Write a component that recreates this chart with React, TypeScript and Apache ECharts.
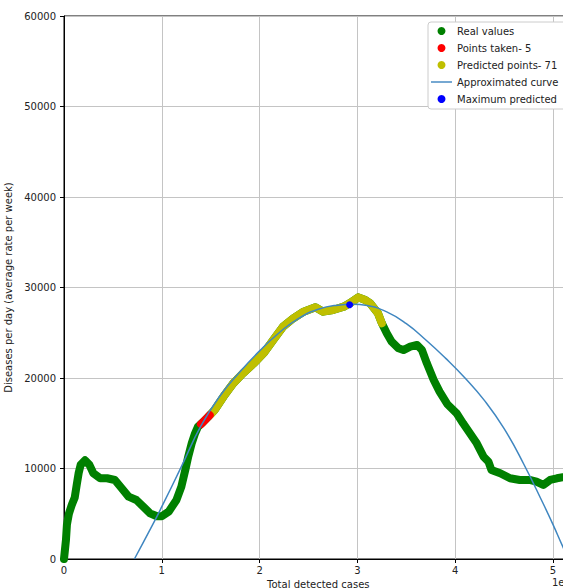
import React, { useEffect, useRef } from "react";
import * as echarts from "echarts";

// x values are in units of 1e6 total detected cases
const xTicks = [0, 1, 2, 3, 4, 5];
const yTicks = [0, 10000, 20000, 30000, 40000, 50000, 60000];

const realValues: [number, number][] = [
  [0.0, 0], [0.02, 2100], [0.03, 3800], [0.05, 5000], [0.08, 6000], [0.11, 6800],
  [0.13, 8200], [0.15, 9500], [0.17, 10400], [0.215, 10900], [0.26, 10400],
  [0.3, 9470], [0.37, 8920], [0.44, 8920], [0.52, 8730], [0.59, 7810],
  [0.66, 6890], [0.74, 6520], [0.81, 5780], [0.88, 5050], [0.95, 4720],
  [1.0, 4720], [1.07, 5230], [1.15, 6520], [1.2, 7990], [1.24, 9830],
  [1.27, 11300], [1.306, 12780], [1.34, 13890], [1.37, 14620], [1.425, 15170],
  [1.475, 15720], [1.54, 16460], [1.63, 17930], [1.73, 19410], [1.83, 20520],
  [1.94, 21620], [2.04, 22730], [2.14, 24200], [2.24, 25670], [2.345, 26600],
  [2.45, 27330], [2.57, 27810], [2.65, 27330], [2.75, 27510], [2.86, 27880],
  [2.92, 28250], [3.01, 28910], [3.08, 28620], [3.13, 28250], [3.21, 27150],
  [3.25, 26040], [3.3, 24940], [3.35, 24010], [3.42, 23280], [3.47, 23090],
  [3.54, 23460], [3.61, 23650], [3.66, 23090], [3.71, 21620], [3.78, 19780],
  [3.84, 18500], [3.92, 17100], [4.015, 16100], [4.08, 14990], [4.15, 13890],
  [4.22, 12780], [4.29, 11300], [4.34, 10750], [4.37, 9830], [4.46, 9470],
  [4.56, 8920], [4.66, 8730], [4.76, 8730], [4.83, 8540], [4.9, 8180],
  [4.97, 8730], [5.04, 8920], [5.1, 9030], [5.15, 9100], [5.2, 9200],
];

const pointsTaken: [number, number][] = [
  [1.4, 14900], [1.425, 15170], [1.45, 15450], [1.475, 15720], [1.49, 15900],
];

const predictedPoints: [number, number][] = [
  [1.5, 16000], [1.54, 16460], [1.63, 17930], [1.73, 19410], [1.83, 20520],
  [1.94, 21620], [2.04, 22730], [2.14, 24200], [2.24, 25670], [2.345, 26600],
  [2.45, 27330], [2.57, 27810], [2.65, 27330], [2.75, 27510], [2.86, 27880],
  [2.92, 28250], [3.01, 28910], [3.08, 28620], [3.13, 28250], [3.21, 27150],
  [3.25, 26040],
];

const approxCurve: [number, number][] = [
  [0.72, 0], [0.9, 3650], [1.0, 5780], [1.2, 10200], [1.4, 14700],
  [1.6, 18100], [1.8, 20700], [2.0, 23000], [2.2, 25000], [2.4, 26600],
  [2.6, 27600], [2.8, 28050], [2.95, 28150], [3.1, 28000], [3.3, 27300],
  [3.5, 26000], [3.7, 24200], [3.9, 22200], [4.1, 20000], [4.3, 17500],
  [4.5, 14400], [4.7, 10500], [4.9, 6100], [5.0, 3800], [5.1, 1360], [5.16, 0],
];

const maxPredicted: [number, number][] = [[2.92, 28100]];

const legendNames = [
  "Real values",
  "Points taken- 5",
  "Predicted points- 71",
  "Approximated curve",
  "Maximum predicted",
];

const FONT = "DejaVu Sans";

export default function App() {
  const ref = useRef<HTMLDivElement>(null);
  useEffect(() => {
    document.body.style.margin = "0";
    if (!ref.current) return;
    const chart = echarts.init(ref.current, undefined, { renderer: "svg" });
    chart.setOption({
      animation: false,
      backgroundColor: "#ffffff",
      textStyle: { fontFamily: FONT },
      grid: {
        left: 64,
        top: 16,
        width: 508.6,
        height: 543,
        containLabel: false,
        outerBoundsMode: "none",
        show: true,
        borderColor: "#000",
        borderWidth: 1,
        backgroundColor: "transparent",
      },
      legend: {
        orient: "vertical",
        left: 428,
        top: 22,
        padding: [4, 8, 5, 3],
        itemWidth: 21,
        itemHeight: 8,
        itemGap: 7,
        backgroundColor: "#ffffff",
        borderColor: "#cccccc",
        borderWidth: 1,
        borderRadius: 3,
        textStyle: { fontFamily: FONT, fontSize: 10, color: "#222" },
        data: [
          { name: legendNames[0], icon: "circle" },
          { name: legendNames[1], icon: "circle" },
          { name: legendNames[2], icon: "circle" },
          { name: legendNames[3], icon: "path://M0,0H22V1.5H0Z" },
          { name: legendNames[4], icon: "circle" },
        ],
      },
      xAxis: {
        type: "value",
        min: 0,
        max: 5.2,
        interval: 1,
        name: "Total detected cases",
        nameLocation: "middle",
        nameGap: 19,
        nameTextStyle: { fontFamily: FONT, fontSize: 10, color: "#222" },
        axisLine: { show: true, onZero: false, lineStyle: { color: "#000", width: 1 } },
        axisTick: { show: true, inside: false, length: 4, lineStyle: { color: "#000" } },
        axisLabel: {
          margin: 6,
          fontFamily: FONT,
          fontSize: 10,
          color: "#222",
          formatter: (v: number) => (xTicks.includes(v) ? String(v) : ""),
        },
        splitLine: { show: true, lineStyle: { color: "#c4c4c4", width: 1 } },
      },
      yAxis: {
        type: "value",
        min: yTicks[0],
        max: yTicks[yTicks.length - 1],
        interval: 10000,
        name: "Diseases per day (average rate per week)",
        nameLocation: "middle",
        nameGap: 41,
        nameTextStyle: { fontFamily: FONT, fontSize: 10, color: "#222" },
        axisLine: { show: true, lineStyle: { color: "#000", width: 1 } },
        axisTick: { show: true, inside: false, length: 4, lineStyle: { color: "#000" } },
        axisLabel: {
          margin: 8,
          fontFamily: FONT,
          fontSize: 10,
          color: "#222",
          formatter: (v: number) => String(v),
        },
        splitLine: { show: true, lineStyle: { color: "#c4c4c4", width: 1 } },
      },
      graphic: [
        {
          type: "text",
          left: 552,
          top: 577,
          style: { text: "1e6", fontFamily: FONT, fontSize: 10, fill: "#222" },
        },
      ],
      series: [
        {
          name: legendNames[0],
          type: "line",
          data: realValues,
          showSymbol: false,
          symbol: "circle",
          itemStyle: { color: "#008000" },
          lineStyle: { color: "#008000", width: 8, cap: "round", join: "round" },
          z: 2,
        },
        {
          name: legendNames[2],
          type: "line",
          data: predictedPoints,
          showSymbol: false,
          symbol: "circle",
          itemStyle: { color: "#bfbf00" },
          lineStyle: { color: "#bfbf00", width: 8, cap: "round", join: "round" },
          z: 3,
        },
        {
          name: legendNames[1],
          type: "line",
          data: pointsTaken,
          showSymbol: false,
          symbol: "circle",
          itemStyle: { color: "#ff0000" },
          lineStyle: { color: "#ff0000", width: 8, cap: "round", join: "round" },
          z: 4,
        },
        {
          name: legendNames[3],
          type: "line",
          data: approxCurve,
          showSymbol: false,
          symbol: "none",
          smooth: 0.5,
          itemStyle: { color: "#3f86c0" },
          lineStyle: { color: "#3f86c0", width: 1.5 },
          z: 5,
        },
        {
          name: legendNames[4],
          type: "scatter",
          data: maxPredicted,
          symbol: "circle",
          symbolSize: 7,
          itemStyle: { color: "#0000ff", opacity: 1 },
          z: 6,
        },
      ],
    });
    return () => chart.dispose();
  }, []);
  return (
    <div
      ref={ref}
      style={{ position: "absolute", left: 0, top: 0, width: 563, height: 588 }}
    />
  );
}
